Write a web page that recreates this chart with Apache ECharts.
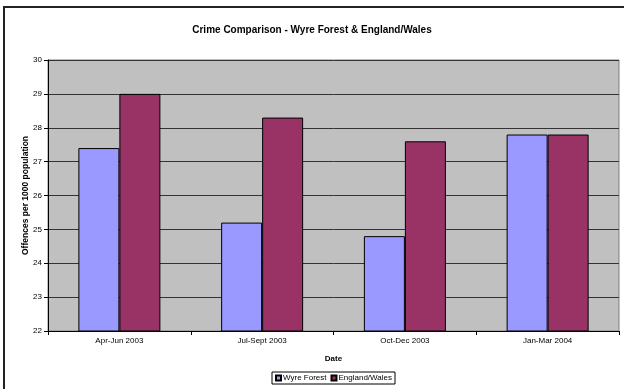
<!DOCTYPE html>
<html>
<head>
<meta charset="utf-8">
<script src="https://cdn.jsdelivr.net/npm/echarts@6/dist/echarts.min.js"></script>
<style>
  html, body { margin: 0; padding: 0; background: #fff; }
  #chart { width: 624px; height: 389px; }
</style>
</head>
<body>
<div id="chart"></div>
<script>
// data
const categories = ['Apr-Jun 2003', 'Jul-Sept 2003', 'Oct-Dec 2003', 'Jan-Mar 2004'];
const wyreForest = [27.4, 25.2, 24.8, 27.8];
const englandWales = [29.0, 28.3, 27.6, 27.8];

const chart = echarts.init(document.getElementById('chart'));
const font = 'Liberation Sans, Arial, sans-serif';

chart.setOption({
    animation: false,
    textStyle: { fontFamily: font },
    title: {
        text: 'Crime Comparison - Wyre Forest & England/Wales',
        left: 'center',
        top: 20,
        textStyle: { fontSize: 10, fontWeight: 'bold', color: '#000', fontFamily: font }
    },
    graphic: [{
        // outer chart frame (right/bottom edges fall outside the picture)
        type: 'rect',
        shape: { x: 4, y: 7, width: 700, height: 500 },
        style: { fill: 'none', stroke: '#222', lineWidth: 2 },
        silent: true
    }],
    legend: {
        left: 272,
        top: 372,
        itemWidth: 5,
        itemHeight: 5,
        itemGap: 4,
        padding: [2, 3],
        borderColor: '#000',
        borderWidth: 1,
        icon: 'rect',
        textStyle: { fontSize: 8, color: '#000', padding: [0, 0, 0, -3] },
        data: ['Wyre Forest', 'England/Wales']
    },
    grid: {
        left: 48,
        right: 5,
        top: 60,
        bottom: 58,
        show: true,
        backgroundColor: '#c0c0c0',
        borderColor: '#808080',
        borderWidth: 1
    },
    xAxis: {
        type: 'category',
        data: categories,
        name: 'Date',
        nameLocation: 'middle',
        nameGap: 24,
        nameMoveOverlap: false,
        nameTextStyle: { fontSize: 8, fontWeight: 'bold', color: '#000' },
        axisLine: { lineStyle: { color: '#000' } },
        axisTick: { show: true, alignWithLabel: false, length: 4, lineStyle: { color: '#000' } },
        axisLabel: { fontSize: 8, color: '#000', margin: 6 },
        splitLine: { show: false }
    },
    yAxis: {
        type: 'value',
        min: 22,
        max: 30,
        interval: 1,
        name: 'Offences per 1000 population',
        nameLocation: 'middle',
        nameGap: 18,
        nameMoveOverlap: false,
        nameTextStyle: { fontSize: 8.5, fontWeight: 'bold', color: '#000' },
        axisLine: { show: true, lineStyle: { color: '#000' } },
        axisTick: { show: true, length: 4, lineStyle: { color: '#000' } },
        axisLabel: { fontSize: 8, color: '#000', margin: 6 },
        splitLine: { show: true, lineStyle: { color: '#333', width: 1 } }
    },
    series: [{
        name: 'Wyre Forest',
        type: 'bar',
        data: wyreForest,
        barWidth: 41,
        barGap: '0%',
        itemStyle: { color: '#9999ff', borderColor: '#000', borderWidth: 1 }
    }, {
        name: 'England/Wales',
        type: 'bar',
        data: englandWales,
        barWidth: 41,
        barGap: '0%',
        itemStyle: { color: '#993366', borderColor: '#000', borderWidth: 1 }
    }]
});
</script>
</body>
</html>
